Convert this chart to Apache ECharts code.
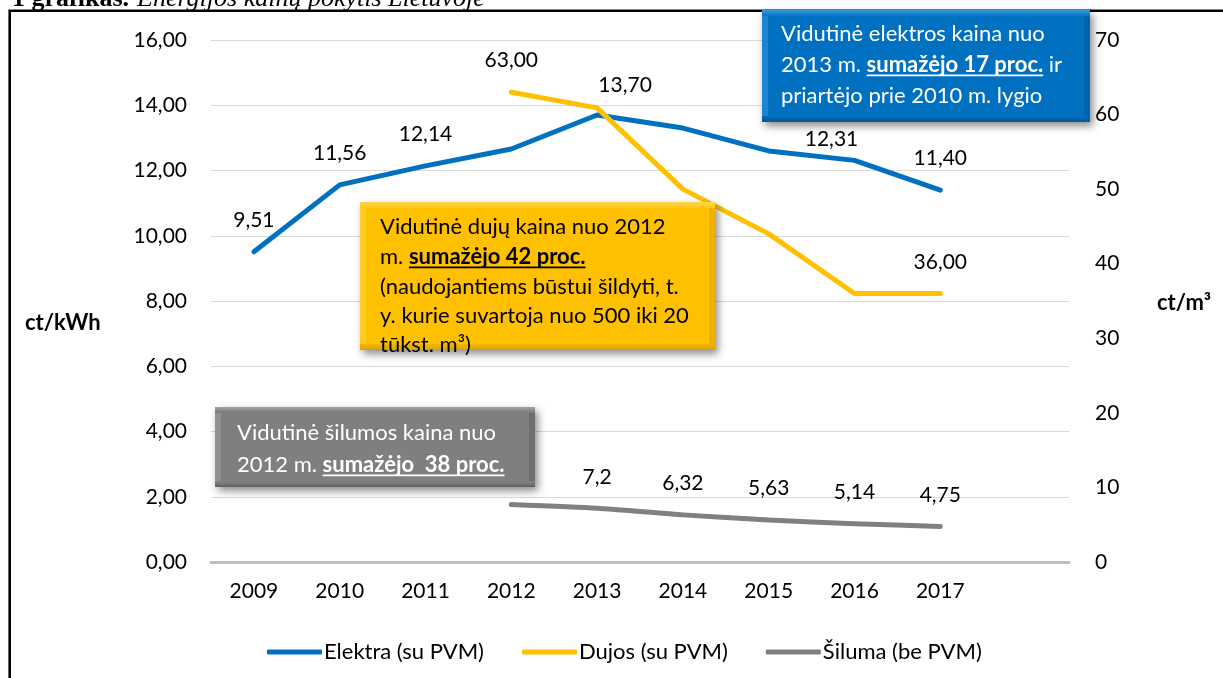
<!DOCTYPE html>
<html><head><meta charset="utf-8">
<script src="https://cdn.jsdelivr.net/npm/echarts@6/dist/echarts.min.js"></script>
<style>html,body{margin:0;padding:0;background:#fff;overflow:hidden}#c{width:1223px;height:678px}</style>
</head><body><div id="c"></div>
<script>
// ---- data ----
const categories = ['2009','2010','2011','2012','2013','2014','2015','2016','2017',''];
const elektra = [9.51, 11.56, 12.14, 12.66, 13.70, 13.30, 12.60, 12.31, 11.40, null];
const dujos   = [null, null, null, 63.00, 60.9, 50.0, 44.0, 36.0, 36.00, null];
const siluma  = [null, null, null, 7.7, 7.2, 6.32, 5.63, 5.14, 4.75, null];
const elektraLabelShown = [true, true, true, false, true, false, false, true, true, false];
const dujosLabelShown   = [false, false, false, true, false, false, false, false, true, false];
const silumaLabelShown  = [false, false, false, false, true, true, true, true, true, false];
const seriesNames = ['Elektra (su PVM)', 'Dujos (su PVM)', 'Šiluma (be PVM)'];
const leftAxisTicks = [0, 2, 4, 6, 8, 10, 12, 14, 16];
const rightAxisTicks = [0, 10, 20, 30, 40, 50, 60, 70];

// ---- styling ----
const FONT = 'Lato';
const C_BLUE = '#0070C0', C_YEL = '#FFC000', C_GRAY = '#808080';
const LBL = 21, TXT = 22;
const labelOffsets = { elektra: {4: [28, 2], 7: [-23, 10]}, dujos: {}, siluma: {} };

function items(vals, shown, offs) {
  return vals.map((v, i) => ({ value: v, label: { show: shown[i], offset: offs[i] || [0, 0] } }));
}
const comma2 = p => p.value.toFixed(2).replace('.', ',');
const commaRaw = p => String(p.value).replace('.', ',');

const chart = echarts.init(document.getElementById('c'), null, {renderer: 'canvas'});

// text measurement
const mctx = document.createElement('canvas').getContext('2d');
function measure(t, bold, size) { mctx.font = (bold ? 'bold ' : '') + size + 'px ' + FONT; return mctx.measureText(t).width; }

const graphics = [];
// frame
graphics.push({type: 'rect', z: 50, silent: true, shape: {x: 9.7, y: 10.7, width: 1400, height: 1000},
  style: {fill: 'none', stroke: '#000', lineWidth: 2.6}});
// title
graphics.push({type: 'text', z: 50, x: 12, y: -1, style: {text: '1 grafikas.', font: 'bold 26px "Liberation Serif"', fill: '#000', align: 'left', verticalAlign: 'middle', textAlign: 'left', textVerticalAlign: 'middle'}});
graphics.push({type: 'text', z: 50, x: 137, y: -1, style: {text: 'Energijos kainų pokytis Lietuvoje', font: 'italic 26px "Liberation Serif"', fill: '#000', align: 'left', verticalAlign: 'middle', textAlign: 'left', textVerticalAlign: 'middle'}});
// axis names
graphics.push({type: 'text', z: 50, x: 25, y: 323, style: {text: 'ct/kWh', font: 'bold ' + TXT + 'px ' + FONT, fill: '#000', align: 'left', verticalAlign: 'middle', textAlign: 'left', textVerticalAlign: 'middle'}});
graphics.push({type: 'text', z: 50, x: 1157, y: 303, style: {text: 'ct/m³', font: 'bold ' + TXT + 'px ' + FONT, fill: '#000', align: 'left', verticalAlign: 'middle', textAlign: 'left', textVerticalAlign: 'middle'}});

function box(x, y, w, h, light, base, dark) {
  graphics.push({type: 'rect', z: 100, silent: true, shape: {x, y, width: w, height: h},
    style: {fill: new echarts.graphic.LinearGradient(0, 0, 0, 1, [{offset: 0, color: light}, {offset: 0.06, color: base}, {offset: 0.94, color: base}, {offset: 1, color: dark}]),
      shadowBlur: 8, shadowOffsetX: 3, shadowOffsetY: 4, shadowColor: 'rgba(0,0,0,0.45)'}});
  graphics.push({type: 'rect', z: 101, silent: true, shape: {x: x + 6, y: y + 6, width: w - 12, height: h - 12},
    style: {fill: base}});
  graphics.push({type: 'rect', z: 101, silent: true, shape: {x: x, y: y + 6, width: 6, height: h - 12}, style: {fill: light, opacity: 0.5}});
  graphics.push({type: 'rect', z: 101, silent: true, shape: {x: x + w - 6, y: y + 6, width: 6, height: h - 12}, style: {fill: dark, opacity: 0.5}});
}
function textLine(x, y, segs, color, size) {
  let cx = x;
  segs.forEach(s => {
    const w = measure(s.t, s.b, size);
    graphics.push({type: 'text', z: 110, silent: true, x: cx, y: y, style: {text: s.t, font: (s.b ? 'bold ' : '') + size + 'px ' + FONT, fill: color, align: 'left', verticalAlign: 'middle', textAlign: 'left', textVerticalAlign: 'middle'}});
    if (s.u) {
      graphics.push({type: 'line', z: 110, silent: true, shape: {x1: cx, y1: y + size * 0.47, x2: cx + w, y2: y + size * 0.47}, style: {stroke: color, lineWidth: 1.6}});
    }
    cx += w;
  });
}

// blue box
box(762, 10, 328, 112, '#3a97db', C_BLUE, '#005a9c');
textLine(781, 34, [{t: 'Vidutinė elektros kaina nuo'}], '#fff', TXT);
textLine(781, 65, [{t: '2013 m. '}, {t: 'sumažėjo 17 proc.', b: true, u: true}, {t: ' ir'}], '#fff', TXT);
textLine(781, 96, [{t: 'priartėjo prie 2010 m. lygio'}], '#fff', TXT);
// yellow box
box(360, 202, 355, 148, '#ffd54d', C_YEL, '#d9a300');
textLine(380, 227, [{t: 'Vidutinė dujų kaina nuo 2012'}], '#000', TXT);
textLine(380, 257, [{t: 'm. '}, {t: 'sumažėjo 42 proc.', b: true, u: true}], '#000', TXT);
textLine(380, 287, [{t: '(naudojantiems būstui šildyti, t.'}], '#000', TXT);
textLine(380, 316, [{t: 'y. kurie suvartoja nuo 500 iki 20'}], '#000', TXT);
textLine(380, 345, [{t: 'tūkst. m³)'}], '#000', TXT);
// gray box
box(215, 407, 320, 80, '#a6a6a6', '#7f7f7f', '#5f5f5f');
textLine(237, 433, [{t: 'Vidutinė šilumos kaina nuo'}], '#fff', TXT);
textLine(237, 465, [{t: '2012 m. '}, {t: 'sumažėjo  38 proc.', b: true, u: true}], '#fff', TXT);

const lineSeries = (name, data, color, yIdx, fmt, extra) => Object.assign({
  name, type: 'line', yAxisIndex: yIdx, data, connectNulls: false,
  symbol: 'circle', symbolSize: 2, showSymbol: true, showAllSymbol: true,
  itemStyle: {color}, lineStyle: {color, width: 5, cap: 'round', join: 'round'},
  emphasis: {disabled: true},
  label: {position: 'top', distance: 20, formatter: fmt, fontFamily: FONT, fontSize: LBL, color: '#000'},
  z: 3
}, extra || {});

chart.setOption({
  animation: false,
  textStyle: {fontFamily: FONT},
  grid: {left: 211, right: 154, top: 40, bottom: 116, containLabel: false},
  legend: {
    data: seriesNames, left: 262, top: 636, icon: 'roundRect', itemWidth: 55, itemHeight: 5, itemGap: 38,
    textStyle: {fontFamily: FONT, fontSize: TXT, color: '#000', padding: [0, 0, 0, -3]}
  },
  xAxis: {
    type: 'category', data: categories, boundaryGap: true,
    axisLine: {lineStyle: {color: '#bfbfbf', width: 3}}, axisTick: {show: false},
    axisLabel: {fontFamily: FONT, fontSize: LBL, color: '#000', margin: 19}
  },
  yAxis: [
    {type: 'value', min: leftAxisTicks[0], max: leftAxisTicks[leftAxisTicks.length - 1], interval: leftAxisTicks[1] - leftAxisTicks[0], position: 'left',
      axisLine: {show: false}, axisTick: {show: false},
      splitLine: {lineStyle: {color: '#d9d9d9', width: 1}},
      axisLabel: {fontFamily: FONT, fontSize: LBL, color: '#000', margin: 24, formatter: v => v.toFixed(2).replace('.', ',')}},
    {type: 'value', min: rightAxisTicks[0], max: rightAxisTicks[rightAxisTicks.length - 1], interval: rightAxisTicks[1] - rightAxisTicks[0], position: 'right',
      axisLine: {show: false}, axisTick: {show: false}, splitLine: {show: false},
      axisLabel: {fontFamily: FONT, fontSize: LBL, color: '#000', margin: 26}}
  ],
  series: [
    lineSeries(seriesNames[0], items(elektra, elektraLabelShown, labelOffsets.elektra), C_BLUE, 0, comma2),
    lineSeries(seriesNames[1], items(dujos, dujosLabelShown, labelOffsets.dujos), C_YEL, 1, comma2),
    lineSeries(seriesNames[2], items(siluma, silumaLabelShown, labelOffsets.siluma), C_GRAY, 1, commaRaw, {smooth: 0.2})
  ],
  graphic: {elements: graphics}
});
</script></body></html>
